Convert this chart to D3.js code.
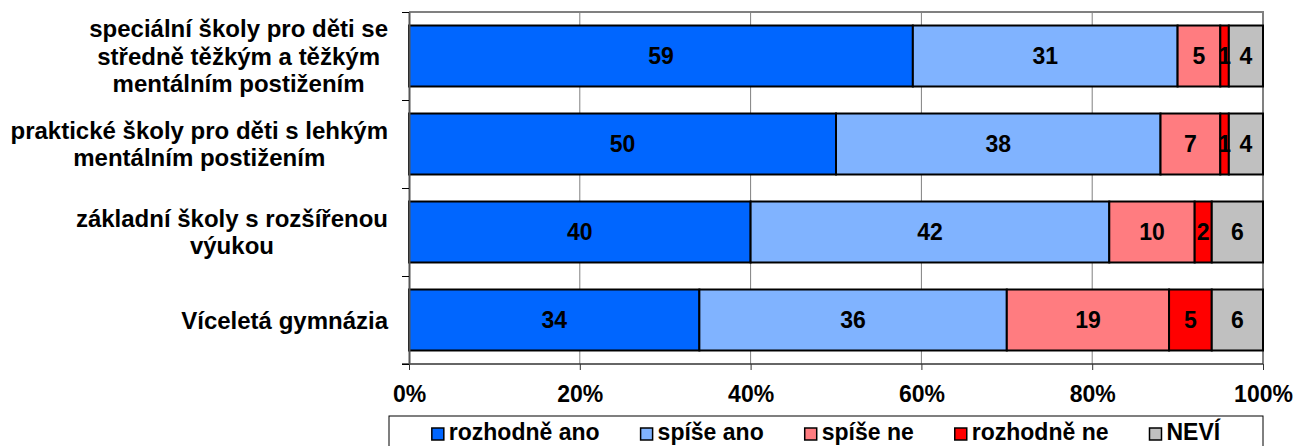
<!DOCTYPE html>
<html>
<head>
<meta charset="utf-8">
<script src="https://cdn.jsdelivr.net/npm/d3@7"></script>
<style>
  body { margin: 0; background: #fff; }
  svg { display: block; font-family: Arial, "Liberation Sans", sans-serif; font-weight: bold; }
</style>
</head>
<body>
<svg id="chart" width="1296" height="446"></svg>
<script>
// categories, top to bottom
var categories = [
  ["speciální školy pro děti se", "středně těžkým a těžkým", "mentálním postižením"],
  ["praktické školy pro děti s lehkým", "mentálním postižením"],
  ["základní školy s rozšířenou", "výukou"],
  ["Víceletá gymnázia"]
];

var seriesNames = ["rozhodně ano", "spíše ano", "spíše ne", "rozhodně ne", "NEVÍ"];
var seriesColors = ["#0066FF", "#80B3FF", "#FF7C80", "#FF0000", "#C0C0C0"];

var rozhodneAno = [59, 50, 40, 34];
var spiseAno    = [31, 38, 42, 36];
var spiseNe     = [5, 7, 10, 19];
var rozhodneNe  = [1, 1, 2, 5];
var nevi        = [4, 4, 6, 6];

var xTicks = [0, 20, 40, 60, 80, 100];

var svg = d3.select("#chart");

// plot area (window.top is reserved, so prefixed names)
var pLeft = 409, pRight = 1263, pTop = 12, pBottom = 364;

var rows = categories.map(function(c, i){
  return {
    idx: i,
    "rozhodně ano": rozhodneAno[i],
    "spíše ano": spiseAno[i],
    "spíše ne": spiseNe[i],
    "rozhodně ne": rozhodneNe[i],
    "NEVÍ": nevi[i]
  };
});

var x = d3.scaleLinear().domain([0, 100]).range([pLeft, pRight]);
var y = d3.scaleBand().domain(d3.range(categories.length)).range([pTop, pBottom])
  .paddingInner(0.307).paddingOuter(0.1535);
var yEdge = d3.scaleLinear().domain([0, categories.length]).range([pTop, pBottom]);
var color = d3.scaleOrdinal().domain(seriesNames).range(seriesColors);

// gridlines
svg.append("g").selectAll("line").data(xTicks.slice(1, -1)).enter().append("line")
  .attr("x1", function(d){ return x(d); }).attr("x2", function(d){ return x(d); })
  .attr("y1", pTop).attr("y2", pBottom)
  .attr("stroke", "#808080").attr("stroke-width", 1);

// plot area frame (top and right in gray)
svg.append("path")
  .attr("d", "M" + pLeft + "," + pTop + "H" + pRight + "V" + pBottom)
  .attr("fill", "none").attr("stroke", "#808080").attr("stroke-width", 2);

// bars
var stacked = d3.stack().keys(seriesNames)(rows);

var layer = svg.append("g").selectAll("g").data(stacked).enter().append("g")
  .attr("fill", function(d){ return color(d.key); });

layer.selectAll("rect").data(function(d){ return d; }).enter().append("rect")
  .attr("x", function(d){ return x(d[0]); })
  .attr("width", function(d){ return x(d[1]) - x(d[0]); })
  .attr("y", function(d){ return y(d.data.idx); })
  .attr("height", y.bandwidth())
  .attr("stroke", "#000").attr("stroke-width", 2);

var labels = svg.append("g").selectAll("g").data(stacked).enter().append("g");
labels.selectAll("text").data(function(d){ return d; }).enter().append("text")
  .attr("x", function(d){ return (x(d[0]) + x(d[1])) / 2; })
  .attr("y", function(d){ return y(d.data.idx) + y.bandwidth() / 2; })
  .attr("dy", "0.36em")
  .attr("text-anchor", "middle")
  .attr("fill", "#000")
  .style("font-size", "23px")
  .text(function(d){ return d[1] - d[0]; });

// axes
var xAxis = svg.append("g").attr("transform", "translate(0," + pBottom + ")")
  .call(d3.axisBottom(x).tickValues(xTicks).tickSize(6).tickSizeOuter(0)
    .tickFormat(function(d){ return d + "%"; }));
xAxis.select(".domain").attr("stroke", "#333").attr("stroke-width", 1.5)
  .attr("d", "M" + (pLeft - 7) + ",0H" + pRight);
xAxis.selectAll(".tick line").attr("stroke", "#333");
xAxis.selectAll(".tick text").attr("y", 22).attr("fill", "#000")
  .style("font-size", "23px").style("font-family", "Arial, 'Liberation Sans', sans-serif");

var yAxis = svg.append("g").attr("transform", "translate(" + pLeft + ",0)")
  .call(d3.axisLeft(yEdge).tickValues(d3.range(categories.length + 1)).tickSize(7)
    .tickSizeOuter(0).tickFormat(""));
yAxis.select(".domain").attr("stroke", "#555").attr("stroke-width", 2);
yAxis.selectAll(".tick line").attr("stroke", "#000");

// category labels: centred block, right edge at labelRight
var labelRight = 388, lineH = 27.5;
categories.forEach(function(lines, i){
  var t = svg.append("text").attr("text-anchor", "middle").style("font-size", "24px");
  var cy = y(i) + y.bandwidth() / 2;
  lines.forEach(function(s, j){
    t.append("tspan").attr("x", 0)
      .attr("y", cy + (j - (lines.length - 1) / 2) * lineH)
      .attr("dy", "0.36em").text(s);
  });
  var w = d3.max(t.selectAll("tspan").nodes(), function(n){ return n.getComputedTextLength(); });
  t.selectAll("tspan").attr("x", labelRight - w / 2);
});

// legend
var legX0 = 389, legX1 = 1263, legY = 416;
svg.append("rect").attr("x", legX0).attr("y", legY)
  .attr("width", legX1 - legX0).attr("height", 40)
  .attr("fill", "#fff").attr("stroke", "#000").attr("stroke-width", 1);

var leg = svg.append("g");
var cursor = 0;
seriesNames.forEach(function(name, i){
  var it = leg.append("g").attr("transform", "translate(" + cursor + ",0)");
  it.append("rect").attr("x", 0).attr("y", -12).attr("width", 12).attr("height", 12)
    .attr("fill", seriesColors[i]).attr("stroke", "#000").attr("stroke-width", 1.5);
  var tx = it.append("text").attr("x", 17).attr("y", 0).style("font-size", "23px").text(name);
  cursor += 17 + tx.node().getComputedTextLength() + 41;
});
var legW = cursor - 41;
leg.attr("transform", "translate(" + ((legX0 + legX1) / 2 - legW / 2) + ",440)");
</script>
</body>
</html>
